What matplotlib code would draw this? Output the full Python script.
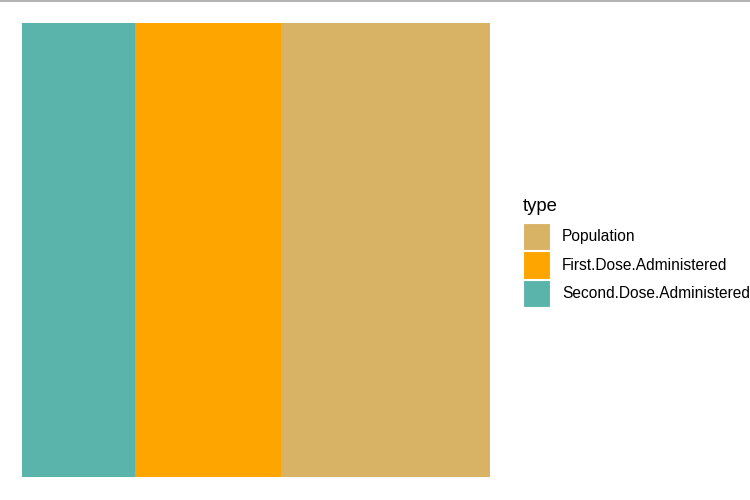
import matplotlib.pyplot as plt
from matplotlib.patches import Patch
from matplotlib.lines import Line2D

plt.rcParams['font.family'] = ['Liberation Sans', 'DejaVu Sans']

# stacking order, left to right
types = ["Second.Dose.Administered", "First.Dose.Administered", "Population"]
values = [113, 146, 209]
colors = ["#5AB4AC", "#FFA500", "#D8B365"]

# legend order as shown
legend_order = ["Population", "First.Dose.Administered", "Second.Dose.Administered"]

fig = plt.figure(figsize=(7.5, 5), dpi=100)
ax = fig.add_axes([22 / 750, 23 / 500, 468 / 750, 454 / 500])

left = 0
for t, v, c in zip(types, values, colors):
    ax.barh(0, v, left=left, height=1, color=c, edgecolor="none")
    left += v
ax.set_xlim(0, sum(values))
ax.set_ylim(-0.5, 0.5)
ax.axis("off")

# thin grey line at the top of the screenshot
fig.add_artist(Line2D([0, 1], [0.998, 0.998], color="#b4b4b4", lw=1.5,
                      transform=fig.transFigure))

cmap = dict(zip(types, colors))
handles = [Patch(facecolor=cmap[t], edgecolor="white", lw=0.8) for t in legend_order]
leg = fig.legend(handles, legend_order, title="type", loc="upper left",
                 bbox_to_anchor=(517 / 750, 1 - 192 / 500), frameon=False,
                 fontsize=11.2, title_fontsize=13.3, handlelength=1.75,
                 handleheight=2.3, labelspacing=0.1, handletextpad=0.75,
                 borderaxespad=0)
leg._legend_box.align = "left"
leg._legend_box.sep = 5.5  # gap between title and keys

fig.savefig("out.png", dpi=100)
